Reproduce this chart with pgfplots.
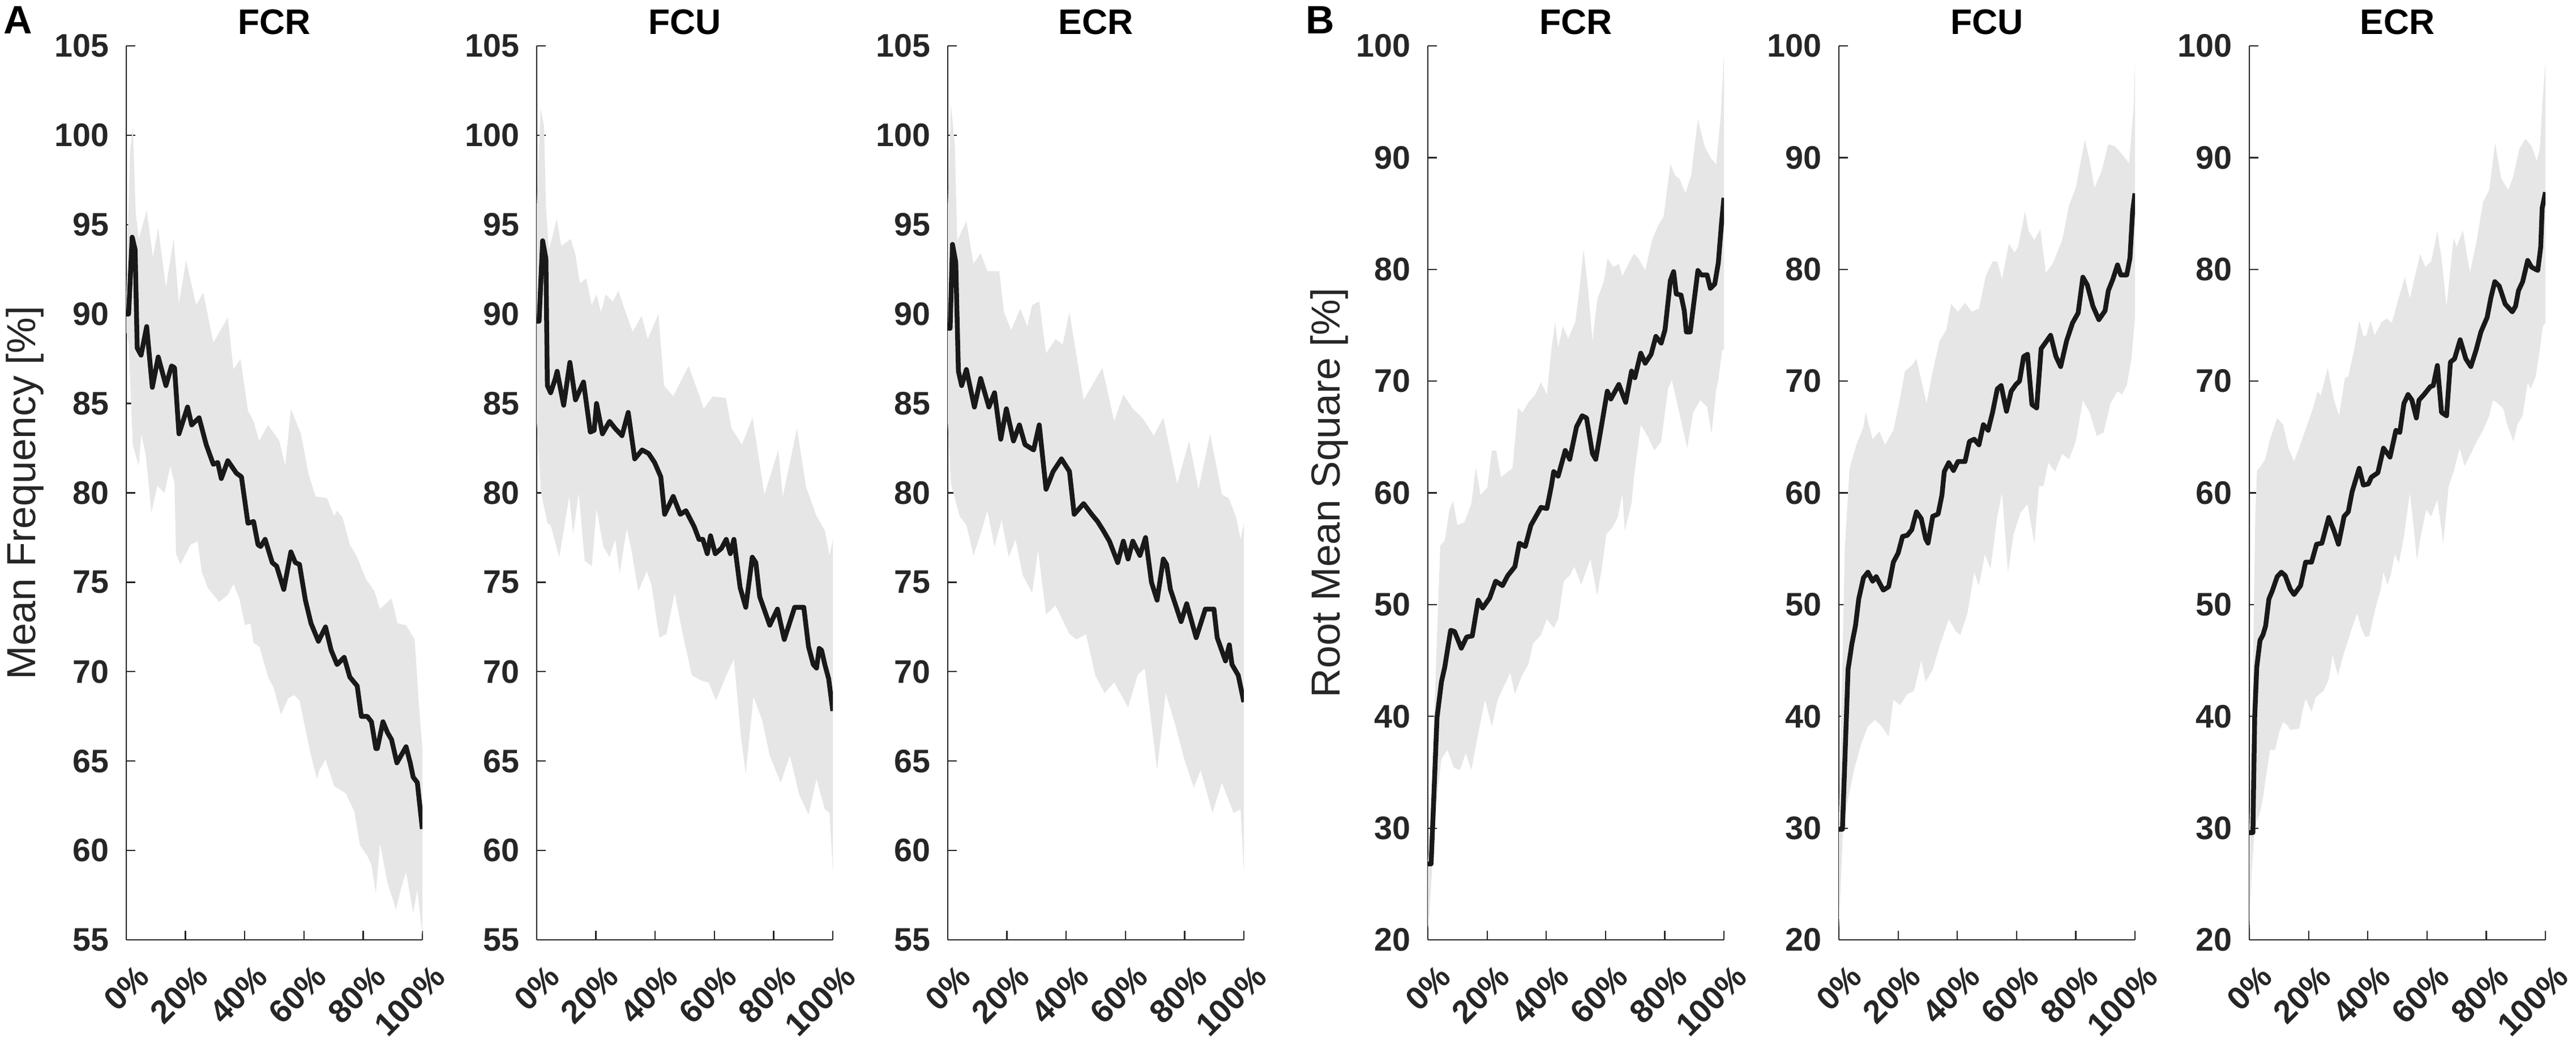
\documentclass[border=0pt]{standalone}
\usepackage{fontspec}
\setmainfont{Liberation Sans}
\usepackage{pgfplots}
\pgfplotsset{compat=1.18}
\usepgfplotslibrary{fillbetween}
\definecolor{band}{RGB}{230,230,230}
\definecolor{axc}{RGB}{38,38,38}
\definecolor{linec}{RGB}{25,25,25}
\pgfplotsset{
 every axis title/.style={at={(0.5,1)}, anchor=base, yshift=4.2pt, inner sep=0pt, font=\bfseries\fontsize{12.5}{13}\selectfont},
 panel/.style={
  scale only axis, width=104.6pt, height=315.8pt, anchor=south west,
  xmin=0, xmax=100,
  axis x line=bottom, axis y line=left,
  axis line style={-, line width=0.45pt, draw=axc},
  tick align=inside, major tick length=3.2pt,
  every tick/.style={line width=0.45pt, axc},
  xtick={0,20,40,60,80,100},
  xticklabels={0\%,20\%,40\%,60\%,80\%,100\%},
  /pgf/number format/assume math mode=true,
  tick label style={font=\bfseries\fontsize{11.5}{12}\selectfont, text=axc},
  yticklabel style={inner sep=0pt, xshift=-6pt, anchor=east},
  xticklabel style={inner sep=0pt, xshift=6pt, yshift=-11pt, rotate=45, anchor=east},
  ylabel style={font=\fontsize{14.3}{15}\selectfont, text=axc, anchor=center, inner sep=0pt},
 },
 pa/.style={panel, ymin=55, ymax=105, ytick={55,60,65,70,75,80,85,90,95,100,105}},
 pb/.style={panel, ymin=20, ymax=100, ytick={20,30,40,50,60,70,80,90,100}},
 meanline/.style={line width=1.7pt, color=linec, line join=round},
}
\begin{document}
\begin{tikzpicture}
\node[anchor=base west, inner sep=0pt, font=\bfseries\fontsize{14}{15}\selectfont] at (1pt,358pt) {A};
\node[anchor=base west, inner sep=0pt, font=\bfseries\fontsize{14}{15}\selectfont] at (461pt,358pt) {B};

% ---------------- Panel A: FCR ----------------
\begin{axis}[pa, at={(44.6pt,38pt)}, title={FCR}, ylabel={Mean Frequency [\%]}, ylabel style={at={(axis description cs:-0.342,0.5)}}]
\addplot[name path=up, draw=none] coordinates {(0,91) (1.3,99.1) (2.2,100.5) (3.2,95.7) (4.2,94.2) (6.9,95.8) (9.0,93.2) (10.8,94.8) (13.4,91.5) (16.0,94.2) (17.8,90.6) (20.2,93.0) (23.6,90.5) (26.0,91.2) (29.4,88.4) (34.3,89.8) (36.2,86.9) (38.6,87.5) (41.1,84.6) (43.0,84.0) (44.9,82.9) (47.9,83.8) (51.7,82.9) (53.7,81.5) (55.6,84.7) (59.0,83.3) (61.5,81.1) (63.9,79.8) (67.8,79.7) (70.2,78.7) (71.2,79.0) (73.1,78.6) (75.5,77.1) (78.0,76.4) (80.9,75.2) (83.8,74.5) (85.7,73.5) (89.6,74.1) (91.6,72.7) (94.5,72.6) (97.4,71.8) (98.8,68.3) (100,65.7)};
\addplot[name path=lo, draw=none] coordinates {(0,89) (0.8,88.4) (2.2,82.7) (4.2,81.5) (5.1,83.3) (6.6,82.1) (8.5,78.9) (10.5,80.4) (12.9,80.0) (14.9,81.5) (16.3,80.5) (16.8,76.6) (18.3,76.0) (21.7,77.1) (24.1,77.3) (25.5,75.6) (27.5,74.7) (31.4,73.9) (34.3,74.3) (36.2,74.9) (38.2,74.1) (40.1,72.6) (42.0,72.7) (43.0,71.6) (45.0,71.4) (47.9,69.7) (49.8,69.1) (52.2,67.6) (54.7,68.5) (56.6,68.7) (58.5,68.4) (60.5,66.8) (62.4,65.3) (64.4,64.0) (65.3,64.5) (67.3,65.1) (70.2,63.6) (74.1,63.2) (77.0,62.2) (78.9,60.3) (81.4,59.7) (82.8,59.2) (84.3,57.6) (85.7,60.4) (88.2,58.2) (91.1,56.7) (93.0,58.0) (94.5,58.8) (96.9,56.5) (98.3,57.8) (100,55.3)};
\addplot[band, draw=none] fill between[of=up and lo];
\addplot[meanline] coordinates {(0,90.0) (0.8,90.0) (2.0,94.3) (3.0,93.6) (3.7,88.1) (5.0,87.7) (6.9,89.3) (8.8,85.9) (10.8,87.6) (13.4,86.0) (15.3,87.1) (16.3,87.0) (17.8,83.3) (20.7,84.8) (22.1,83.8) (24.6,84.2) (27.0,82.7) (29.4,81.6) (30.9,81.7) (32.1,80.8) (34.3,81.8) (37.2,81.1) (38.9,80.9) (41.1,78.3) (43.0,78.4) (44.5,77.1) (45.4,77.0) (46.9,77.4) (49.3,76.1) (50.8,75.9) (53.2,74.6) (55.6,76.7) (57.1,76.1) (58.5,76.0) (60.5,74.0) (62.4,72.7) (64.9,71.7) (67.3,72.5) (69.2,71.2) (71.2,70.4) (73.6,70.8) (75.5,69.7) (78.0,69.2) (79.4,67.5) (81.4,67.5) (82.8,67.2) (84.3,65.7) (84.8,65.7) (86.7,67.2) (88.2,66.6) (89.6,66.2) (91.4,64.9) (94.5,65.8) (95.9,64.9) (96.9,64.1) (98.3,63.8) (100,61.2)};
\end{axis}

% ---------------- Panel A: FCU ----------------
\begin{axis}[pa, at={(189.6pt,38pt)}, title={FCU}]
\addplot[name path=up, draw=none] coordinates {(0,96) (1.3,101.5) (2.5,100.5) (3.1,96) (4.1,93.6) (6.8,95.3) (8.3,93.8) (11.5,94.2) (13.1,93.3) (14.6,91.7) (16.7,92.0) (18.6,90.5) (20.2,91.1) (21.7,90.1) (23.3,91.1) (25.7,90.7) (27.6,91.3) (29.6,90.3) (32.4,89.0) (35.4,89.9) (37.5,88.6) (41.1,90.0) (43.0,86.0) (46.1,85.4) (51.3,87.1) (54.8,85.5) (56.4,84.7) (59.5,85.4) (63.9,85.3) (65.8,83.6) (69.3,82.7) (72.9,84.2) (76.9,79.9) (81.6,82.4) (83.1,79.8) (87.9,83.6) (91.0,80.3) (94.5,78.7) (97.3,77.9) (98.9,76.5) (100,77.4)};
\addplot[name path=lo, draw=none] coordinates {(0,84) (1.5,80) (3.6,78.3) (4.7,78.2) (7.6,76.4) (9.1,77.9) (11.0,79.8) (12.3,77.7) (14.2,80.0) (16.2,76.2) (18.6,75.9) (20.2,79.1) (22.5,77.0) (24.6,76.4) (26.5,77.4) (28.0,75.5) (30.4,78.0) (32.0,76.8) (34.3,74.5) (37.2,75.6) (38.7,74.9) (41.4,71.9) (43.8,72.1) (46.6,74.4) (49.3,72.1) (52.4,69.8) (55.6,69.5) (58.0,69.4) (60.6,68.4) (64.3,69.9) (66.6,70.7) (69.0,66.3) (70.6,64.3) (73.2,68.6) (76.1,67.3) (78.7,65.3) (82.4,63.8) (85.5,65.3) (88.7,63.1) (91.8,62.0) (94.5,64.0) (97.3,62.3) (98.9,62.1) (100,58.8)};
\addplot[band, draw=none] fill between[of=up and lo];
\addplot[meanline] coordinates {(0,89.6) (0.8,89.6) (2.0,94.1) (3.1,93.1) (3.6,86.0) (4.7,85.6) (6.3,86.4) (6.9,86.8) (9.1,84.9) (11.2,87.3) (13.1,85.2) (15.8,86.2) (18.1,83.4) (19.4,83.5) (20.2,85.0) (22.2,83.3) (24.6,84.0) (26.5,83.6) (28.8,83.2) (30.9,84.5) (33.1,81.9) (35.6,82.4) (37.8,82.2) (39.8,81.7) (41.9,80.9) (43.2,78.8) (46.1,79.8) (48.5,78.8) (50.4,79.0) (53.2,78.1) (54.8,77.4) (56.1,77.4) (57.6,76.6) (58.7,77.6) (60.3,76.6) (62.4,76.9) (64.0,77.4) (65.4,76.6) (66.6,77.4) (68.7,74.7) (70.6,73.6) (72.8,76.4) (74.0,76.1) (75.3,74.2) (78.7,72.6) (81.3,73.5) (83.6,71.8) (87.1,73.6) (90.2,73.6) (91.8,71.4) (93.4,70.4) (94.5,70.2) (95.4,71.3) (96.2,71.2) (97.3,70.4) (98.6,69.6) (100,67.8)};
\end{axis}

% ---------------- Panel A: ECR ----------------
\begin{axis}[pa, at={(334.8pt,38pt)}, title={ECR}]
\addplot[name path=up, draw=none] coordinates {(0,96) (1.1,101.7) (2.4,99.4) (3.2,94.1) (6.3,95.2) (8.7,92.8) (11.1,93.4) (13.4,92.4) (17.4,92.4) (19.0,90.1) (21.4,89.1) (24.5,90.3) (26.9,89.3) (28.5,90.5) (30.9,90.7) (33.2,87.8) (36.4,88.6) (38.8,88.3) (41.1,90.1) (45.9,85.2) (52.2,87.0) (56.2,84.0) (59.3,85.5) (62.5,84.7) (65.7,84.2) (69.6,83.2) (72.8,84.2) (77.5,80.5) (81.5,82.9) (84.7,80.2) (88.6,83.3) (92.6,79.9) (94.9,79.7) (97.3,78.7) (98.9,77.4) (100,78.3)};
\addplot[name path=lo, draw=none] coordinates {(0,84) (1.1,80.5) (4.0,78.7) (6.3,78.2) (8.7,76.5) (11.1,77.7) (13.4,79.0) (15.8,77.0) (18.2,78.5) (20.6,76.4) (22.9,77.4) (25.3,75.4) (28.5,74.4) (30.5,76.8) (33.2,73.2) (36.4,73.7) (41.1,72.1) (43.5,71.8) (46.7,72.1) (49.8,69.8) (53.0,68.8) (56.2,69.4) (60.9,68.0) (64.1,69.8) (66.5,70.2) (68.8,67.1) (70.7,64.5) (73.6,68.8) (76.7,67.1) (79.9,65.1) (83.1,63.5) (85.4,64.5) (89.4,62.1) (92.6,63.8) (96.5,62.1) (98.9,62.3) (100,58.8)};
\addplot[band, draw=none] fill between[of=up and lo];
\addplot[meanline] coordinates {(0,89.2) (0.8,89.2) (1.6,93.9) (2.7,92.9) (3.6,86.8) (4.7,86.0) (6.3,86.9) (9.0,84.8) (11.1,86.4) (13.9,84.8) (15.8,85.6) (17.9,83.0) (19.8,84.7) (22.2,82.9) (24.2,83.8) (26.1,82.7) (29.0,82.4) (30.9,83.8) (33.2,80.2) (35.6,81.2) (38.4,81.9) (41.1,81.2) (42.7,78.8) (45.9,79.4) (48.6,78.8) (50.6,78.4) (52.5,77.9) (54.6,77.3) (57.4,76.1) (59.3,77.3) (60.9,76.3) (62.5,77.3) (64.9,76.5) (66.8,77.5) (68.8,75.0) (70.7,74.0) (72.8,76.3) (73.9,76.0) (75.2,74.6) (78.8,72.8) (80.7,73.8) (83.9,71.9) (87.0,73.5) (89.9,73.5) (91.0,71.9) (93.8,70.6) (95.1,71.5) (96.0,70.4) (98.1,69.8) (100,68.3)};
\end{axis}

% ---------------- Panel B: FCR ----------------
\begin{axis}[pb, at={(504.4pt,38pt)}, title={FCR}, ylabel={Root Mean Square [\%]}, ylabel style={at={(axis description cs:-0.333,0.5)}}]
\addplot[name path=up, draw=none] coordinates {(0,27) (0.8,30.1) (1.5,35.2) (3.1,47.3) (4.2,55.3) (5.7,55.7) (7.3,58.5) (8.5,59.3) (10.0,57.1) (12.4,57.4) (14.7,59.0) (16.2,62.3) (17.8,59.8) (20.1,60.5) (21.6,63.8) (23.1,63.8) (24.7,61.4) (27.0,61.9) (28.6,62.2) (30.4,67.6) (32.0,67.2) (34.0,68.1) (36.3,68.8) (38.2,69.9) (40.2,68.8) (41.7,72.8) (43.0,75.3) (44.0,73.0) (45.6,74.9) (47.4,73.8) (49.8,75.3) (51.0,77.8) (52.6,81.8) (54.1,78.3) (55.6,73.6) (57.2,77.3) (59.5,79.0) (60.7,81.0) (62.6,80.2) (64.5,80.5) (65.7,79.4) (67.2,80.2) (69.6,81.4) (71.1,81.0) (73.4,79.9) (75.7,82.6) (77.7,83.9) (79.6,84.7) (81.9,89.4) (83.5,88.4) (85.0,88.1) (87.0,86.8) (88.9,88.4) (91.2,93.4) (93.5,91.0) (95.4,90.0) (97.4,89.4) (98.9,93.7) (100,99.3)};
\addplot[name path=lo, draw=none] coordinates {(0,21) (0.5,22.2) (1.5,26.7) (3.1,32.8) (4.6,36.2) (6.6,37.0) (8.8,35.4) (10.8,35.2) (12.8,36.7) (14.7,35.2) (16.5,37.8) (19.3,41.5) (21.6,39.1) (23.6,41.5) (25.5,42.6) (27.8,43.9) (29.4,42.0) (31.7,43.6) (34.0,44.7) (35.5,46.5) (38.2,47.3) (40.2,48.7) (42.5,47.9) (44.0,48.7) (45.9,52.1) (47.9,52.6) (49.5,53.4) (51.8,51.8) (54.9,54.1) (57.2,50.8) (58.7,53.2) (60.3,56.3) (62.3,56.9) (64.1,57.8) (65.7,59.9) (66.5,56.6) (68.8,59.1) (69.6,61.4) (71.9,66.1) (74.2,65.1) (76.5,63.8) (78.8,64.6) (81.1,69.3) (82.4,70.1) (84.2,68.0) (85.8,66.1) (87.6,64.0) (89.6,67.2) (92.0,68.3) (94.3,67.7) (95.8,65.3) (97.4,69.3) (98.1,70.1) (99.4,72.8) (100,72.8)};
\addplot[band, draw=none] fill between[of=up and lo];
\addplot[meanline] coordinates {(0,26.8) (1.1,26.8) (3.1,39.9) (4.6,43.1) (5.7,44.4) (7.7,47.7) (9.0,47.6) (11.3,46.1) (13.1,47.1) (15.0,47.2) (17.0,50.4) (18.5,49.7) (20.9,50.6) (22.9,52.1) (25.2,51.7) (27.0,52.6) (29.4,53.4) (30.9,55.5) (32.9,55.2) (34.8,57.1) (38.2,58.7) (40.2,58.6) (41.7,60.6) (42.5,61.9) (44.0,61.5) (46.4,63.8) (47.9,63.0) (50.2,65.9) (52.1,66.9) (53.6,66.7) (55.6,63.5) (56.7,63.0) (58.7,66.1) (60.6,69.1) (61.8,68.4) (64.5,69.7) (66.8,68.1) (68.8,70.9) (69.9,70.3) (71.9,72.5) (73.4,71.6) (75.4,72.4) (77.0,74.0) (78.8,73.4) (80.1,74.6) (81.9,79.0) (83.0,79.8) (83.9,77.8) (85.5,77.7) (86.6,76.3) (87.3,74.4) (88.6,74.4) (91.2,79.9) (92.3,79.5) (94.3,79.5) (95.4,78.3) (96.9,78.7) (98.1,80.6) (99.2,84.2) (100,86.4)};
\end{axis}

% ---------------- Panel B: FCU ----------------
\begin{axis}[pb, at={(649.6pt,38pt)}, title={FCU}]
\addplot[name path=up, draw=none] coordinates {(0,31) (1.2,45) (2.0,55) (3.6,62.2) (5.9,64.3) (8.3,65.9) (9.0,67.2) (11.4,64.8) (13.7,65.5) (15.6,64.3) (18.4,65.6) (20.7,68.5) (22.3,70.9) (24.6,71.4) (26.2,72.0) (27.8,70.1) (29.6,68.0) (31.7,70.9) (34.0,73.6) (36.3,74.6) (37.9,76.9) (40.2,76.2) (42.6,77.0) (44.9,76.2) (47.3,76.5) (49.6,79.4) (51.9,80.7) (53.5,80.7) (55.1,79.1) (57.4,82.3) (59.3,81.5) (60.5,82.0) (62.9,85.2) (64.0,83.5) (66.0,82.6) (68.0,83.6) (69.9,79.7) (72.2,80.5) (75.4,82.6) (77.7,85.7) (80.0,87.3) (83.1,91.6) (84.7,89.7) (86.3,87.3) (88.6,88.7) (91.0,91.2) (93.3,91.0) (95.6,90.3) (98.0,89.5) (99.5,94.3) (100,98.5)};
\addplot[name path=lo, draw=none] coordinates {(0,21) (1.5,30.6) (2.8,32.2) (5.1,35.2) (7.5,37.5) (9.8,39.1) (12.2,39.7) (14.5,39.1) (16.8,38.2) (18.4,41.5) (20.7,41.0) (23.1,42.0) (25.4,42.3) (27.8,45.0) (29.3,43.1) (31.7,44.2) (34.0,46.3) (37.1,48.7) (39.5,47.6) (41.0,47.3) (43.4,49.2) (45.7,52.9) (47.3,51.7) (49.3,54.5) (51.2,53.2) (53.5,57.9) (55.1,60.0) (57.1,52.9) (59.0,56.3) (61.3,58.2) (63.7,59.0) (66.0,55.5) (67.6,60.6) (69.1,60.6) (70.7,62.7) (73.0,61.9) (75.4,63.5) (77.7,63.0) (80.0,64.6) (82.4,68.3) (84.7,67.2) (87.1,65.1) (89.4,65.4) (91.7,68.0) (94.1,69.1) (95.6,68.8) (97.2,69.6) (98.8,72.0) (100,75.7)};
\addplot[band, draw=none] fill between[of=up and lo];
\addplot[meanline] coordinates {(0,29.9) (1.2,29.9) (3.1,44.2) (4.4,46.5) (5.6,48.1) (6.7,50.5) (8.3,52.4) (9.8,52.9) (11.4,52.1) (12.6,52.5) (15.0,51.3) (16.8,51.6) (18.4,53.8) (20.0,54.6) (21.5,56.1) (23.1,56.2) (24.6,56.7) (26.2,58.3) (27.8,57.7) (29.3,55.9) (30.1,55.5) (31.7,57.9) (33.5,58.1) (34.8,59.8) (35.6,61.9) (37.1,62.7) (38.7,62.0) (40.2,62.8) (42.6,62.8) (44.1,64.6) (45.7,64.8) (47.3,64.3) (48.8,66.1) (50.4,65.6) (51.9,67.2) (53.5,69.3) (54.8,69.6) (56.6,67.3) (58.2,69.1) (59.8,69.7) (61.0,70.0) (62.4,72.2) (63.7,72.4) (65.2,67.9) (66.8,67.6) (68.3,72.9) (70.2,73.6) (71.5,74.1) (73.3,72.2) (74.9,71.3) (76.9,73.6) (78.9,75.2) (80.8,76.1) (82.4,79.3) (83.9,78.6) (85.8,76.7) (87.8,75.5) (89.9,76.3) (91.0,78.1) (92.5,79.1) (94.1,80.4) (95.2,79.5) (97.2,79.5) (98.3,81.0) (99.2,85.2) (100,86.8)};
\end{axis}

% ---------------- Panel B: ECR ----------------
\begin{axis}[pb, at={(794.6pt,38pt)}, title={ECR}]
\addplot[name path=up, draw=none] coordinates {(0,30) (1.0,40) (2.0,58) (2.6,62.0) (3.9,62.4) (5.3,63.0) (7.0,64.8) (9.4,66.7) (11.4,66.1) (13.2,64.0) (15.1,62.8) (17.3,64.4) (19.3,65.9) (21.4,67.5) (23.1,69.1) (24.1,68.7) (26.5,71.2) (28.6,68.3) (30.3,66.9) (32.3,70.3) (33.4,70.4) (35.4,72.8) (37.1,75.4) (38.5,74.0) (39.5,74.1) (40.9,75.4) (42.3,74.1) (44.7,75.3) (46.4,75.6) (48.1,75.2) (50.1,77.1) (52.5,79.3) (54.2,77.4) (57.7,81.4) (59.4,80.2) (61.4,80.7) (63.5,83.4) (64.9,81.0) (66.6,76.7) (69.0,82.8) (70.0,82.0) (72.1,83.5) (74.5,79.7) (76.8,82.6) (78.9,86.0) (81.0,87.1) (83.0,91.3) (85.1,88.1) (87.5,87.1) (89.2,88.4) (91.2,90.8) (93.3,91.7) (95.3,91.0) (97.1,89.7) (98.1,90.8) (99.0,95.0) (100,98.5)};
\addplot[name path=lo, draw=none] coordinates {(0,20.8) (0.8,26.1) (1.8,30.1) (3.6,31.4) (4.6,32.7) (5.6,34.6) (7.0,37.0) (8.7,37.0) (10.1,38.6) (11.4,39.5) (12.8,39.2) (13.8,38.8) (16.9,38.9) (17.9,40.4) (19.0,41.6) (21.0,40.4) (22.4,41.7) (25.1,42.3) (26.8,43.3) (28.1,45.5) (29.9,43.7) (32.0,45.7) (33.7,47.1) (34.9,48.1) (36.4,49.2) (37.8,47.9) (39.2,47.1) (40.5,47.2) (42.6,49.7) (44.3,51.3) (45.3,52.9) (46.7,51.8) (47.7,52.6) (49.1,54.5) (50.5,53.7) (52.2,56.1) (54.2,60.0) (55.3,57.4) (56.6,54.0) (58.0,56.3) (59.7,58.5) (61.4,57.9) (63.5,59.4) (65.5,55.5) (67.3,60.6) (69.0,61.9) (71.0,64.0) (72.7,62.4) (74.8,63.5) (76.8,64.6) (78.9,65.6) (81.0,66.9) (82.3,68.3) (84.0,68.0) (85.8,67.5) (87.1,66.1) (89.2,64.6) (90.5,66.1) (92.3,66.9) (94.0,69.9) (95.0,69.3) (96.7,70.4) (98.1,72.8) (99.1,74.9) (100,75.2)};
\addplot[band, draw=none] fill between[of=up and lo];
\addplot[meanline] coordinates {(0,29.6) (1.2,29.6) (1.8,39.9) (2.5,44.4) (3.6,46.8) (4.6,47.3) (5.5,48.1) (6.6,50.5) (7.7,51.2) (9.4,52.5) (10.8,52.9) (12.1,52.6) (13.8,51.4) (15.1,50.9) (17.3,51.7) (19.0,53.8) (21.0,53.8) (22.7,55.4) (24.5,55.5) (26.8,57.8) (28.6,56.6) (30.1,55.4) (32.0,57.9) (33.4,58.3) (34.7,60.1) (37.1,62.2) (38.5,60.7) (40.2,60.8) (41.2,61.4) (43.4,61.8) (45.3,64.0) (47.5,63.2) (49.5,65.6) (50.8,65.4) (52.2,68.0) (53.6,68.8) (54.9,68.3) (56.4,66.7) (57.3,68.3) (59.0,68.8) (61.1,69.5) (62.1,69.6) (63.5,71.4) (64.9,67.2) (66.6,66.9) (67.9,71.7) (69.3,72.0) (71.2,73.7) (73.1,72.0) (74.8,71.3) (76.6,72.8) (78.2,74.4) (80.3,75.7) (81.6,77.5) (82.9,78.9) (84.4,78.5) (86.4,76.9) (88.8,76.2) (89.9,76.7) (90.9,78.1) (92.3,78.9) (94.0,80.8) (95.3,80.2) (97.4,79.9) (98.4,82.0) (98.9,85.5) (100,86.9)};
\end{axis}
\pgfresetboundingbox
\useasboundingbox (0,0) rectangle (910pt,370pt);
\end{tikzpicture}
\end{document}
